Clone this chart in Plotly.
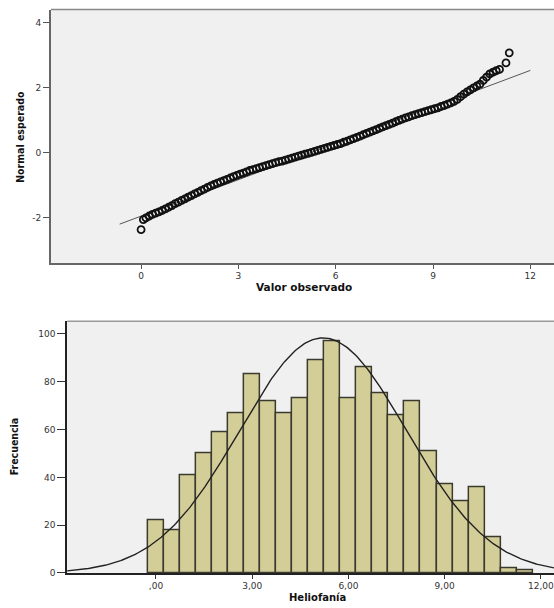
import math
import plotly.graph_objects as go

# ---------------- data ----------------
qq_observed = [0.00, 0.07, 0.15, 0.25, 0.35, 0.45, 0.55, 0.65, 0.75, 0.85, 0.95,
               1.05, 1.15, 1.25, 1.35, 1.45, 1.55, 1.65, 1.75, 1.85, 1.95,
               2.05, 2.15, 2.25, 2.35, 2.45, 2.55, 2.65, 2.75, 2.85, 2.95,
               3.05, 3.15, 3.25, 3.35, 3.45, 3.55, 3.65, 3.75, 3.85, 3.95,
               4.05, 4.15, 4.25, 4.35, 4.45, 4.55, 4.65, 4.75, 4.85, 4.95,
               5.05, 5.15, 5.25, 5.35, 5.45, 5.55, 5.65, 5.75, 5.85, 5.95,
               6.05, 6.15, 6.25, 6.35, 6.45, 6.55, 6.65, 6.75, 6.85, 6.95,
               7.05, 7.15, 7.25, 7.35, 7.45, 7.55, 7.65, 7.75, 7.85, 7.95,
               8.05, 8.15, 8.25, 8.35, 8.45, 8.55, 8.65, 8.75, 8.85, 8.95,
               9.05, 9.15, 9.25, 9.35, 9.45, 9.55, 9.65, 9.75, 9.85, 9.95,
               10.05, 10.15, 10.25, 10.35, 10.45, 10.55, 10.65, 10.75, 10.85, 10.95,
               11.05, 11.25, 11.35]
qq_expected = [-2.37, -2.06, -2.01, -1.95, -1.90, -1.86, -1.82, -1.78, -1.73, -1.68, -1.63,
               -1.57, -1.52, -1.47, -1.42, -1.37, -1.32, -1.27, -1.22, -1.17, -1.12,
               -1.07, -1.02, -0.98, -0.94, -0.90, -0.86, -0.82, -0.78, -0.74, -0.70,
               -0.66, -0.63, -0.59, -0.55, -0.52, -0.49, -0.46, -0.43, -0.40, -0.37,
               -0.34, -0.31, -0.28, -0.26, -0.23, -0.20, -0.17, -0.14, -0.11, -0.08,
               -0.05, -0.02, 0.01, 0.04, 0.07, 0.10, 0.13, 0.16, 0.19, 0.22,
               0.25, 0.28, 0.32, 0.35, 0.39, 0.43, 0.47, 0.51, 0.55, 0.59,
               0.63, 0.67, 0.71, 0.75, 0.79, 0.83, 0.87, 0.91, 0.95, 0.99,
               1.03, 1.07, 1.10, 1.14, 1.17, 1.20, 1.23, 1.26, 1.29, 1.32,
               1.35, 1.38, 1.42, 1.45, 1.49, 1.53, 1.58, 1.64, 1.72, 1.80,
               1.87, 1.93, 1.99, 2.05, 2.11, 2.22, 2.32, 2.42, 2.48, 2.52,
               2.56, 2.76, 3.07]
qq_line_x = [-0.66, 12.0]
qq_line_y = [-2.20, 2.53]

qq_xticks = [0, 3, 6, 9, 12]
qq_yticks = [-2, 0, 2, 4]
qq_yticktext = ["-2", "0", "2", "4"]

# Histogram of Heliofanía
bin_centers = [0.0, 0.5, 1.0, 1.5, 2.0, 2.5, 3.0, 3.5, 4.0, 4.5, 5.0, 5.5,
               6.0, 6.5, 7.0, 7.5, 8.0, 8.5, 9.0, 9.5, 10.0, 10.5, 11.0, 11.5]
counts = [22, 18, 41, 50, 59, 67, 83, 72, 67, 73, 89, 97,
          73, 86, 75, 66, 72, 51, 37, 30, 36, 15, 2, 1]
bin_width = 0.5
mean_val = 5.21
sd_val = 2.60

hist_xtickvals = [0, 3, 6, 9, 12]
hist_xticktext = [",00", "3,00", "6,00", "9,00", "12,00"]
hist_yticks = [0, 20, 40, 60, 80, 100]

# ---------------- figure ----------------
W, H = 554, 608
BG = "#F0F0F0"
TICKFONT = dict(family="DejaVu Sans", size=9, color="#333333")
NARROW = "DejaVu Sans Condensed, Liberation Sans Narrow, Arial Narrow, Liberation Sans"

fig = go.Figure()

# Q-Q plot
fig.add_trace(go.Scatter(
    x=qq_line_x, y=qq_line_y, mode="lines",
    line=dict(color="#555555", width=1), xaxis="x", yaxis="y", hoverinfo="skip"))
fig.add_trace(go.Scatter(
    x=qq_observed, y=qq_expected, mode="markers",
    marker=dict(symbol="circle-open", size=7, color="#111111", line=dict(width=1.8)),
    xaxis="x", yaxis="y"))

# Histogram
fig.add_trace(go.Bar(
    x=bin_centers, y=counts, width=bin_width,
    marker=dict(color="#D3CE97", line=dict(color="#3A3A2E", width=1.5)),
    xaxis="x2", yaxis="y2"))

n_total = sum(counts)
x_lo, x_hi = -2.77, 12.41
curve_x = [x_lo + (x_hi - x_lo) * i / 300 for i in range(301)]
curve_y = [n_total * bin_width / (sd_val * math.sqrt(2 * math.pi))
           * math.exp(-0.5 * ((v - mean_val) / sd_val) ** 2) for v in curve_x]
fig.add_trace(go.Scatter(
    x=curve_x, y=curve_y, mode="lines",
    line=dict(color="#222222", width=1.4), xaxis="x2", yaxis="y2", hoverinfo="skip"))

top_dom = [(H - 265) / H, (H - 9.7) / H]
bot_dom = [(H - 577.7) / H, (H - 324) / H]

fig.update_layout(
    width=W, height=H,
    margin=dict(l=0, r=0, t=0, b=0),
    paper_bgcolor="white",
    plot_bgcolor=BG,
    showlegend=False,
    bargap=0,
    xaxis=dict(domain=[50.9 / W, 1], range=[-2.78, 12.73], tickvals=qq_xticks,
               ticks="outside", ticklen=4, tickcolor="#555555", tickfont=TICKFONT,
               showgrid=False, zeroline=False, showline=True, linecolor="#666666",
               linewidth=1.5, anchor="y", ticklabeloverflow="allow"),
    yaxis=dict(domain=top_dom, range=[-3.39, 4.40], tickvals=qq_yticks,
               ticktext=qq_yticktext,
               ticks="outside", ticklen=6, tickcolor="#555555", tickfont=TICKFONT,
               showgrid=False, zeroline=False, showline=True, linecolor="#666666",
               linewidth=1.5, anchor="x"),
    xaxis2=dict(domain=[67.1 / W, 1], range=[x_lo, x_hi], tickvals=hist_xtickvals,
                ticktext=hist_xticktext,
                ticks="outside", ticklen=4, tickcolor="#333333", tickfont=TICKFONT,
                showgrid=False, zeroline=False, showline=True, linecolor="#222222",
                linewidth=1.5, anchor="y2", ticklabeloverflow="allow"),
    yaxis2=dict(domain=bot_dom, range=[0, 105.3], tickvals=hist_yticks,
                ticks="outside", ticklen=8, tickcolor="#333333", tickfont=TICKFONT,
                showgrid=False, zeroline=False, showline=True, linecolor="#222222",
                linewidth=1.5, anchor="x2"),
    shapes=[
        dict(type="line", xref="paper", yref="paper", x0=50.9 / W, x1=1,
             y0=top_dom[1], y1=top_dom[1], line=dict(color="#888888", width=1.5)),
        dict(type="line", xref="paper", yref="paper", x0=67.1 / W, x1=1,
             y0=bot_dom[1], y1=bot_dom[1], line=dict(color="#999999", width=1.5)),
    ],
    annotations=[
        dict(text="<b>Normal esperado</b>", x=20 / W, y=(H - 138) / H, xref="paper",
             yref="paper", showarrow=False, textangle=-90,
             xanchor="center", yanchor="middle",
             font=dict(family=NARROW, size=10.5, color="#111111")),
        dict(text="<b>Valor observado</b>", x=304 / W, y=(H - 289) / H, xref="paper",
             yref="paper", showarrow=False, xanchor="center", yanchor="middle",
             font=dict(family="DejaVu Sans", size=10.5, color="#111111")),
        dict(text="<b>Frecuencia</b>", x=14 / W, y=(H - 450) / H, xref="paper",
             yref="paper", showarrow=False, textangle=-90,
             xanchor="center", yanchor="middle",
             font=dict(family=NARROW, size=10.5, color="#111111")),
        dict(text="<b>Heliofanía</b>", x=317 / W, y=(H - 602) / H, xref="paper",
             yref="paper", showarrow=False, xanchor="center", yanchor="middle",
             font=dict(family="DejaVu Sans", size=10, color="#111111")),
    ],
)

fig.write_html("out.html")
